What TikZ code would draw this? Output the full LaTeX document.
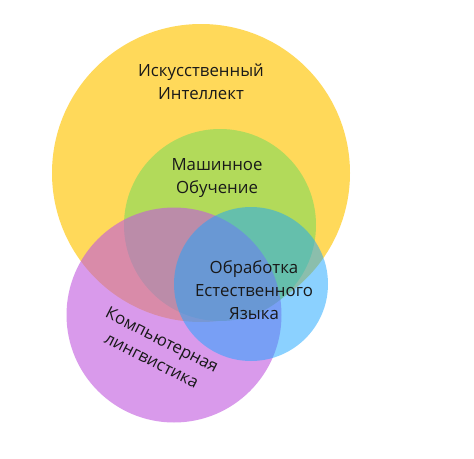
\documentclass[tikz,border=0pt]{standalone}
\usepackage{fontspec}
\setmainfont{Open Sans}
\definecolor{aiyellow}{RGB}{255,217,90}
\definecolor{mlgreen}{RGB}{178,218,90}
\definecolor{clpurple}{RGB}{193,88,223}
\definecolor{nlpblue}{RGB}{25,165,255}
\tikzset{
  venn/.style={draw=none},
  lbl/.style={align=center, inner sep=0pt, text=black!90,
    font=\fontsize{16.8}{23}\selectfont}
}
\begin{document}
\begin{tikzpicture}[x=1pt,y=-1pt]
\useasboundingbox (0,0) rectangle (474,458);
\fill[white] (0,0) rectangle (474,458);
\fill[venn, aiyellow] (201,173) circle[radius=149];
\fill[venn, mlgreen] (220,225) circle[radius=96];
\fill[venn, clpurple, fill opacity=0.6] (174,315) circle[radius=107.5];
\fill[venn, nlpblue, fill opacity=0.5] (251,284) circle[radius=77];
\node[lbl] (ai) at (201,82) {Искусственный\\Интеллект};
\node[lbl] (ml) at (217,178) {Машинное\\Обучение};
\node[lbl] (nlp) at (254,290) {Обработка\\Естественного\\Языка};
\node[lbl, rotate=-27] (cl) at (157,350) {Компьютерная\\лингвистика};
\end{tikzpicture}
\end{document}
